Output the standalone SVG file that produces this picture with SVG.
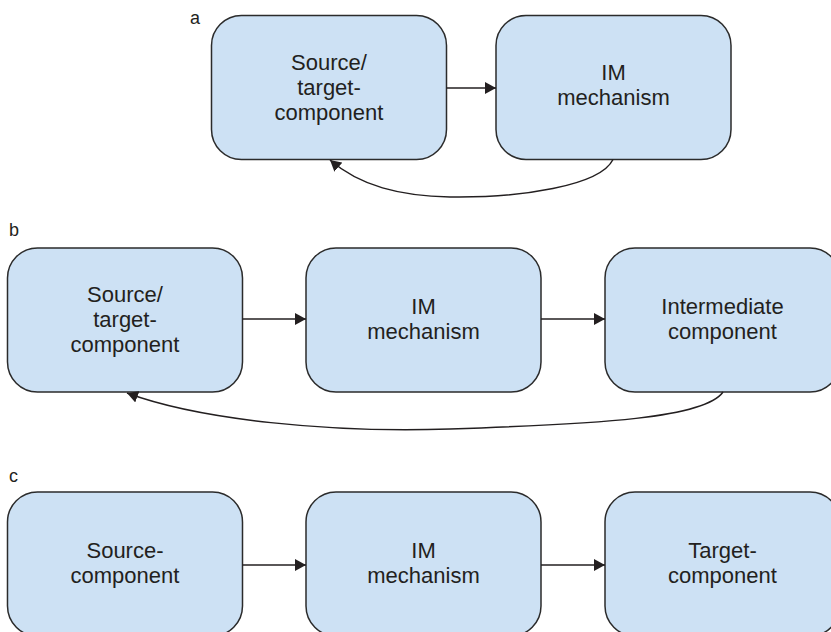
<svg xmlns="http://www.w3.org/2000/svg" width="831" height="632" viewBox="0 0 831 632">
<style>
.box{fill:#cde1f4;stroke:#2b2b2b;stroke-width:1.5}
.t{font-family:"Liberation Sans",Arial,sans-serif;font-size:22px;fill:#231f20;text-anchor:middle}
.lbl{font-family:"Liberation Sans",Arial,sans-serif;font-size:18px;fill:#231f20}
.c{fill:none;stroke:#231f20;stroke-width:1.5}
</style>
<defs>
<marker id="ah" markerUnits="userSpaceOnUse" markerWidth="12" markerHeight="12" refX="11" refY="6" orient="auto">
<path d="M0,0 L11,6 L0,12 z" fill="#231f20"/>
</marker>
</defs>
<rect width="831" height="632" fill="#fff"/>
<text class="lbl" x="190" y="24">a</text>
<text class="lbl" x="9" y="236">b</text>
<text class="lbl" x="9" y="482">c</text>
<g id="a-source-target">
<rect class="box" x="211.5" y="15.5" width="235" height="144" rx="30"/>
<text class="t" x="329" y="70">Source/</text>
<text class="t" x="329" y="95">target-</text>
<text class="t" x="329" y="120">component</text>
</g>
<g id="a-im">
<rect class="box" x="496" y="15.5" width="235" height="144" rx="30"/>
<text class="t" x="613.5" y="80">IM</text>
<text class="t" x="613.5" y="105">mechanism</text>
</g>
<g id="b-source-target">
<rect class="box" x="7.5" y="248" width="235" height="144" rx="30"/>
<text class="t" x="125" y="302">Source/</text>
<text class="t" x="125" y="327">target-</text>
<text class="t" x="125" y="352">component</text>
</g>
<g id="b-im">
<rect class="box" x="306" y="248" width="235" height="144" rx="30"/>
<text class="t" x="423.5" y="314">IM</text>
<text class="t" x="423.5" y="339">mechanism</text>
</g>
<g id="b-intermediate">
<rect class="box" x="605" y="248" width="235" height="144" rx="30"/>
<text class="t" x="722.5" y="314">Intermediate</text>
<text class="t" x="722.5" y="339">component</text>
</g>
<g id="c-source">
<rect class="box" x="7.5" y="492" width="235" height="144" rx="30"/>
<text class="t" x="125" y="558">Source-</text>
<text class="t" x="125" y="583">component</text>
</g>
<g id="c-im">
<rect class="box" x="306" y="492" width="235" height="144" rx="30"/>
<text class="t" x="423.5" y="558">IM</text>
<text class="t" x="423.5" y="583">mechanism</text>
</g>
<g id="c-target">
<rect class="box" x="605" y="492" width="235" height="144" rx="30"/>
<text class="t" x="722.5" y="558">Target-</text>
<text class="t" x="722.5" y="583">component</text>
</g>
<g id="connectors">
<line class="c" x1="446.5" y1="88" x2="496" y2="88" marker-end="url(#ah)"/>
<path class="c" d="M613,159.5 C600,186 520,198 450,197 C400,196 360,186 330,160" marker-end="url(#ah)"/>
<line class="c" x1="242.5" y1="319" x2="306" y2="319" marker-end="url(#ah)"/>
<line class="c" x1="541" y1="319" x2="605" y2="319" marker-end="url(#ah)"/>
<path class="c" d="M723,392 C705,418 600,424 450,429 C330,433 200,420 127,393" marker-end="url(#ah)"/>
<line class="c" x1="242.5" y1="565" x2="306" y2="565" marker-end="url(#ah)"/>
<line class="c" x1="541" y1="565" x2="605" y2="565" marker-end="url(#ah)"/>
</g>
</svg>
